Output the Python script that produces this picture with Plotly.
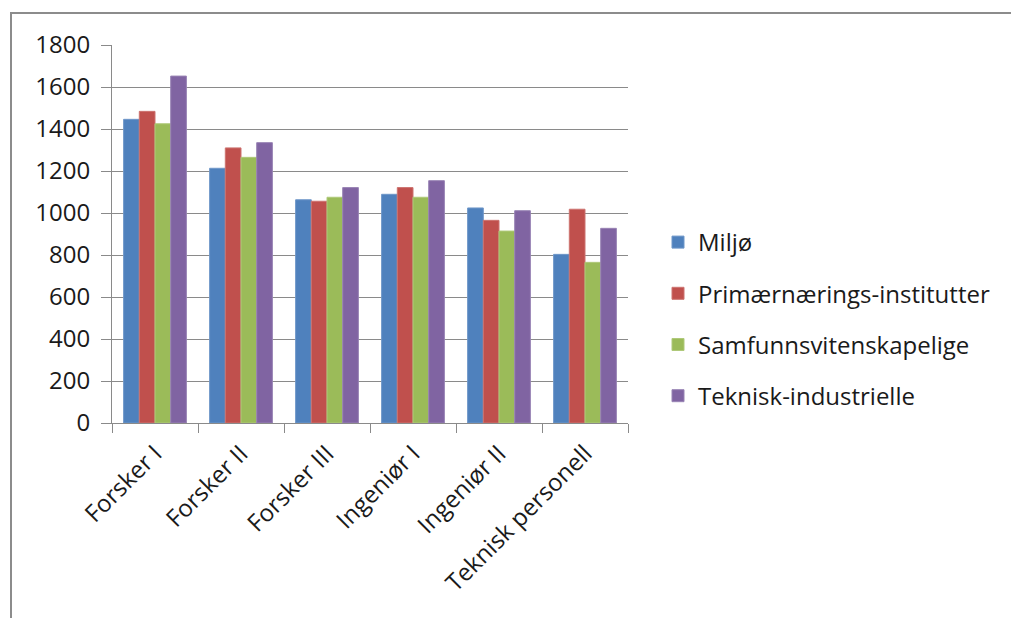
import plotly.graph_objects as go

categories = ["Forsker I", "Forsker II", "Forsker III", "Ingeniør I", "Ingeniør II", "Teknisk personell"]
miljo = [1446, 1213, 1063, 1089, 1024, 803]
primaer = [1484, 1310, 1056, 1121, 965, 1018]
samfunn = [1425, 1265, 1075, 1075, 914, 765]
teknisk = [1652, 1335, 1121, 1154, 1011, 927]

series = [
    ("Miljø", miljo, "#4F81BD", "#6F97C9"),
    ("Primærnærings-institutter", primaer, "#C0504D", "#CD7370"),
    ("Samfunnsvitenskapelige", samfunn, "#9BBB59", "#AFC97A"),
    ("Teknisk-industrielle", teknisk, "#8064A2", "#9883B4"),
]

fig = go.Figure()
for name, vals, col, edge in series:
    fig.add_trace(go.Bar(
        x=categories, y=vals, name=name, legendgroup=name,
        marker=dict(color=col, line=dict(color=edge, width=1)),
    ))

W, H = 1011, 618
L, R, T, B = 112, 628, 45, 423
font = "Open Sans, Noto Sans, Liberation Sans, sans-serif"

fig.update_layout(
    width=W, height=H,
    margin=dict(l=L, r=W - R, t=T, b=H - B, autoexpand=False),
    paper_bgcolor="white", plot_bgcolor="white",
    barmode="group", bargap=0.27, bargroupgap=0,
    font=dict(family=font, size=24, color="#1a1a1a"),
    showlegend=True,
    legend=dict(
        x=(658 - L) / (R - L), xanchor="left",
        y=(B - 319) / (B - T), yanchor="middle",
        font=dict(size=24, color="#1a1a1a"),
        tracegroupgap=17, bgcolor="rgba(0,0,0,0)",
    ),
    shapes=[dict(
        type="rect", xref="paper", yref="paper",
        x0=(11 - L) / (R - L), x1=3,
        y0=-3, y1=(B - 13) / (B - T),
        line=dict(color="#8c8c8c", width=2), fillcolor="rgba(0,0,0,0)", layer="below",
    )],
)
fig.update_yaxes(
    range=[0, 1800], dtick=200, showgrid=True, gridcolor="#8a8a8a", gridwidth=1,
    showline=True, linecolor="#8a8a8a", linewidth=1,
    ticks="outside", ticklen=10, tickcolor="#8a8a8a", ticklabelstandoff=6,
    tickfont=dict(size=24, color="#1a1a1a"), zeroline=False,
)
fig.update_xaxes(
    showline=True, linecolor="#8a8a8a", linewidth=1,
    ticks="outside", ticklen=9, tickcolor="#8a8a8a", tickson="boundaries",
    tickangle=-45, tickfont=dict(size=24, color="#1a1a1a"), ticklabelstandoff=6,
)

fig.write_html(
    "out.html",
    config={"displayModeBar": False},
    post_script="document.body.style.margin='0';document.body.style.overflow='hidden';",
)
